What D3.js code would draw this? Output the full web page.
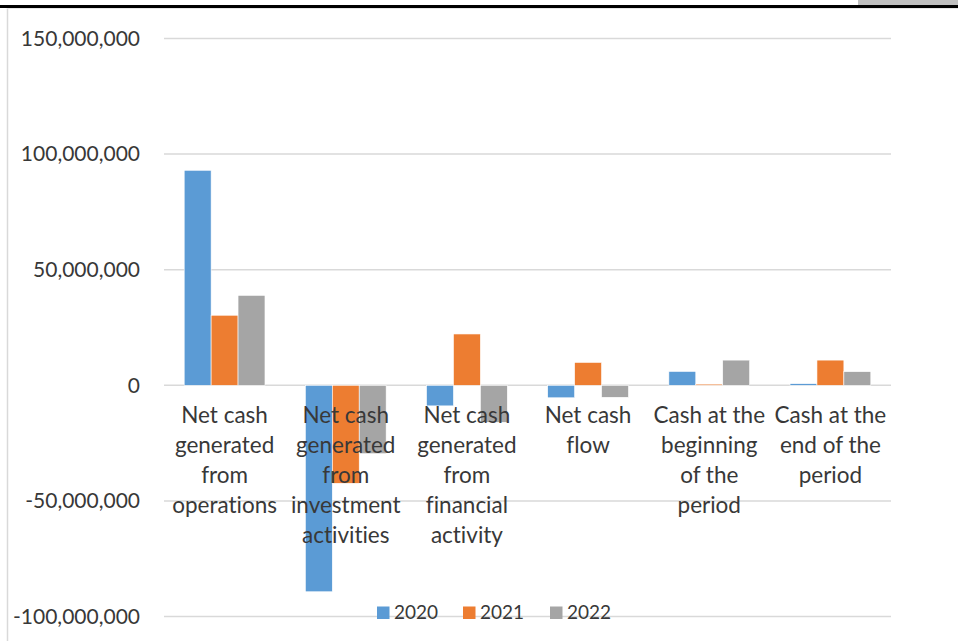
<!DOCTYPE html>
<html>
<head>
<meta charset="utf-8">
<script src="https://cdn.jsdelivr.net/npm/d3@7"></script>
<style>
  html, body { margin: 0; padding: 0; background: #fff; }
  svg { display: block; }
  text { font-family: Lato, "Open Sans", sans-serif; fill: #383838; font-variant-ligatures: none; font-feature-settings: "liga" 0, "clig" 0, "dlig" 0; }
</style>
</head>
<body>
<svg id="chart" width="958" height="641"></svg>
<script>
// Cash flow items (category labels, wrapped line by line)
const categories = [
  "Net cash generated from operations",
  "Net cash generated from investment activities",
  "Net cash generated from financial activity",
  "Net cash flow",
  "Cash at the beginning of the period",
  "Cash at the end of the period"
];
const categoryLines = [
  ["Net cash", "generated", "from", "operations"],
  ["Net cash", "generated", "from", "investment", "activities"],
  ["Net cash", "generated", "from", "financial", "activity"],
  ["Net cash", "flow"],
  ["Cash at the", "beginning", "of the", "period"],
  ["Cash at the", "end of the", "period"]
];
const seriesNames = ["2020", "2021", "2022"];
const values2020 = [93000000, -89300000, -8900000, -5400000, 6000000, 700000];
const values2021 = [30300000, -42400000, 22200000, 9900000, 500000, 10900000];
const values2022 = [38900000, -29600000, -16000000, -5200000, 10900000, 5900000];
const yTicks = [-100000000, -50000000, 0, 50000000, 100000000, 150000000];
const colors = ["#5b9bd5", "#ed7d31", "#a5a5a5"];

const seriesValues = [values2020, values2021, values2022];

const svg = d3.select("#chart");

// Outer frame decorations
svg.append("rect").attr("x", 858).attr("y", 0).attr("width", 100).attr("height", 5).attr("fill", "#bfbfbf");
svg.append("rect").attr("x", 0).attr("y", 5).attr("width", 958).attr("height", 3).attr("fill", "#000");
svg.append("line").attr("x1", 7.5).attr("x2", 7.5).attr("y1", 8).attr("y2", 641)
  .attr("stroke", "#d9d9d9").attr("stroke-width", 1.5);
svg.append("line").attr("x1", 7).attr("x2", 958).attr("y1", 8.5).attr("y2", 8.5)
  .attr("stroke", "#e6e6e6").attr("stroke-width", 1);

const plot = { left: 164, right: 891, top: 38.5, bottom: 616.5 };

const y = d3.scaleLinear()
  .domain([-100000000, 150000000])
  .range([plot.bottom, plot.top]);

// Gap width of 150% between clusters
const x0 = d3.scaleBand()
  .domain(categories)
  .range([plot.left, plot.right])
  .paddingInner(1 / 3)
  .paddingOuter(1 / 6);

const x1 = d3.scaleBand()
  .domain(seriesNames)
  .range([0, x0.bandwidth()]);

// Gridlines
svg.append("g")
  .selectAll("line")
  .data(yTicks)
  .join("line")
  .attr("x1", plot.left).attr("x2", plot.right)
  .attr("y1", d => y(d)).attr("y2", d => y(d))
  .attr("stroke", "#d9d9d9").attr("stroke-width", 1.5);

// Y axis labels (plain hyphen for negatives)
const fmt = d3.formatLocale({ decimal: ".", thousands: ",", grouping: [3], currency: ["", ""], minus: "-" }).format(",");
svg.append("g")
  .selectAll("text")
  .data(yTicks)
  .join("text")
  .attr("x", 140)
  .attr("y", d => y(d))
  .attr("dy", "0.35em")
  .attr("text-anchor", "end")
  .attr("font-size", 21)
  .text(d => fmt(d));

// Bars
const groups = svg.append("g")
  .selectAll("g")
  .data(categories)
  .join("g")
  .attr("transform", d => `translate(${x0(d)},0)`);

groups.selectAll("rect")
  .data((d, i) => seriesNames.map((s, j) => ({ s, j, v: seriesValues[j][i] })))
  .join("rect")
  .attr("x", d => x1(d.s))
  .attr("width", x1.bandwidth())
  .attr("y", d => y(Math.max(0, d.v)))
  .attr("height", d => Math.abs(y(d.v) - y(0)))
  .attr("fill", d => colors[d.j])
  .attr("stroke", "#fff").attr("stroke-width", 0.6);

// Category labels drawn over the bars
const labels = svg.append("g")
  .selectAll("text")
  .data(categories)
  .join("text")
  .attr("text-anchor", "middle")
  .attr("font-size", 22.5)
  .attr("x", d => x0(d) + x0.bandwidth() / 2);

labels.selectAll("tspan")
  .data((d, i) => categoryLines[i])
  .join("tspan")
  .attr("x", function () { return d3.select(this.parentNode).attr("x"); })
  .attr("y", (d, k) => 423 + k * 30)
  .text(d => d);

// Legend
const legendX = [377, 463, 550];
const legend = svg.append("g")
  .selectAll("g")
  .data(seriesNames)
  .join("g")
  .attr("transform", (d, i) => `translate(${legendX[i]},0)`);
legend.append("rect")
  .attr("x", 0).attr("y", 606.5).attr("width", 12.5).attr("height", 12.5)
  .attr("fill", (d, i) => colors[i]);
legend.append("text")
  .attr("x", 17).attr("y", 619)
  .attr("font-size", 19)
  .text(d => d);
</script>
</body>
</html>
